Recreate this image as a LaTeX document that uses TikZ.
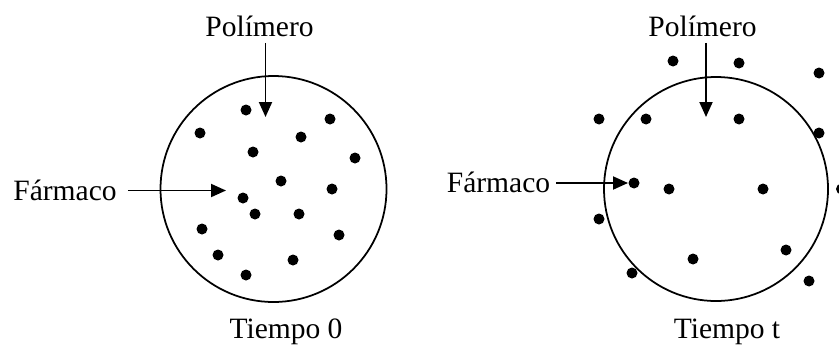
\documentclass[tikz,border=0pt]{standalone}
\usepackage{fontspec}
\setmainfont{Liberation Serif}
\usepackage{tikz}
\usetikzlibrary{arrows.meta,positioning}
\tikzset{
  lbl/.style={font=\fontsize{16.8}{20}\selectfont,anchor=base},
  ptr/.style={-{Triangle[length=0.3cm,width=0.26cm]},line width=1.1pt},
  particle/.style={fill=black}
}

\begin{document}
\begin{tikzpicture}
  \useasboundingbox (0,0) rectangle (16.78,6.92);
  % matriz al tiempo 0
  \draw[line width=1pt] (5.47,3.14) circle (2.26);
  \foreach \x/\y in {4.92/4.72,4.00/4.26,6.60/4.54,6.02/4.18,5.06/3.88,7.10/3.76,
                     5.62/3.30,6.64/3.14,4.86/2.96,5.10/2.64,5.98/2.64,4.04/2.34,
                     6.78/2.22,4.36/1.82,5.86/1.72,4.92/1.42}
     {\fill[particle] (\x,\y) circle (0.11);}
  \node[lbl] (pol0) at (5.19,6.19) {Polímero};
  \node[lbl] (farm0) at (1.30,2.92) {Fármaco};
  \node[lbl] (time0) at (5.72,0.15) {Tiempo 0};
  \coordinate (tipP0) at (5.31,4.58);
  \coordinate (tipF0) at (4.52,3.11);
  \draw[ptr] (pol0.south -| tipP0) -- (tipP0);
  \draw[ptr] ([xshift=0.1cm]farm0.east |- tipF0) -- (tipF0);
  % matriz al tiempo t
  \draw[line width=1pt] (14.32,3.14) circle (2.24);
  \foreach \x/\y in {13.46/5.70,14.78/5.66,16.38/5.46,11.98/4.54,12.92/4.54,14.78/4.54,
                     16.38/4.26,12.68/3.26,13.38/3.14,15.26/3.14,16.83/3.14,11.98/2.54,
                     15.72/1.92,13.86/1.74,12.64/1.46,16.18/1.30}
     {\fill[particle] (\x,\y) circle (0.11);}
  \node[lbl] (polt) at (14.05,6.19) {Polímero};
  \node[lbl] (farmt) at (9.97,3.08) {Fármaco};
  \node[lbl] (timet) at (14.54,0.15) {Tiempo t};
  \coordinate (tipPt) at (14.12,4.58);
  \coordinate (tipFt) at (12.56,3.26);
  \draw[ptr] (polt.south -| tipPt) -- (tipPt);
  \draw[ptr] (farmt.east |- tipFt) -- (tipFt);
\end{tikzpicture}
\end{document}
